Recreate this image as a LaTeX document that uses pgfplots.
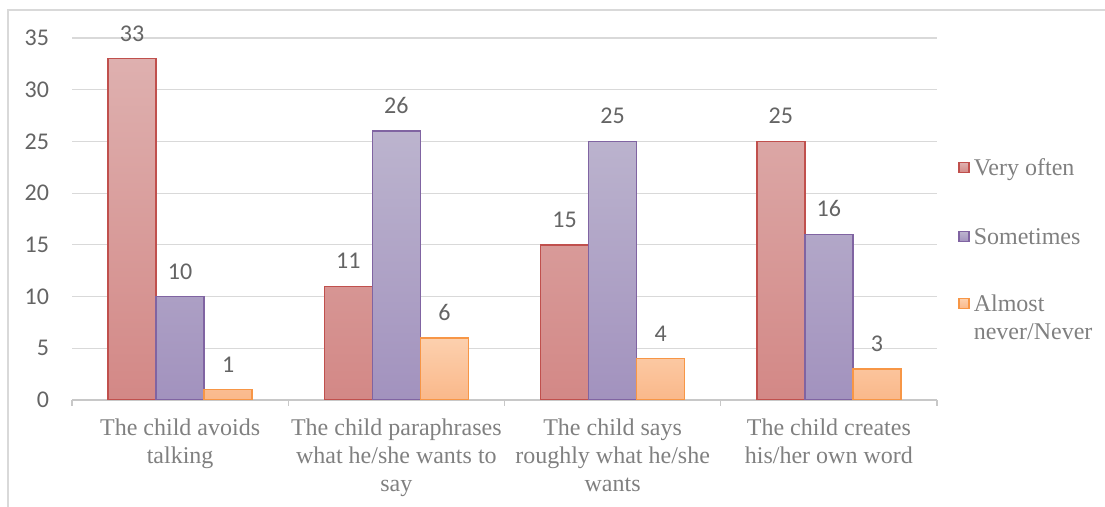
\documentclass[border=0pt]{standalone}
\usepackage{pgfplots}
\pgfplotsset{compat=1.18}
\usepackage{fontspec}
\setmainfont{Liberation Serif}
\newfontfamily\numfont{Carlito}

\definecolor{txtgray}{RGB}{128,128,128}
\definecolor{numgray}{RGB}{100,100,100}
\definecolor{gridgray}{RGB}{217,217,217}
\definecolor{axisgray}{RGB}{200,200,200}
% series colours: outline, top and bottom of the gradient fill
\definecolor{redline}{RGB}{192,80,77}
\definecolor{redtop}{RGB}{222,176,175}
\definecolor{redbot}{RGB}{211,136,134}
\definecolor{purpline}{RGB}{128,100,162}
\definecolor{purptop}{RGB}{188,180,206}
\definecolor{purpbot}{RGB}{162,146,190}
\definecolor{orline}{RGB}{247,150,70}
\definecolor{ortop}{RGB}{252,208,174}
\definecolor{orbot}{RGB}{250,184,138}

\begin{document}
\begin{tikzpicture}
% page frame (1px = 0.5pt; plot area lower-left at the origin)
\useasboundingbox (-36pt,-53.5pt) rectangle (516.5pt,200pt);
\draw[gridgray, line width=0.6pt] (-32pt,-53.5pt) -- (-32pt,195pt) -- (516.5pt,195pt);

\begin{axis}[
  at={(0pt,0pt)}, anchor=south west,
  scale only axis,
  width=432.5pt, height=181pt,
  /pgf/number format/assume math mode=true,
  ybar=0pt, bar width=24pt,
  xmin=-0.5, xmax=3.5,
  ymin=0, ymax=35,
  ytick={0,5,...,35},
  xtick={0,1,2,3},
  xticklabels={%
    {The child avoids\\talking},
    {The child paraphrases\\what he/she wants to\\say},
    {The child says\\roughly what he/she\\wants},
    {The child creates\\his/her own word}},
  minor xtick={-0.5,0.5,1.5,2.5,3.5},
  major tick length=0pt,
  minor tick length=3pt,
  tick align=outside,
  axis x line*=bottom,
  axis y line*=left,
  y axis line style={draw=none},
  x axis line style={axisgray, line width=0.6pt},
  minor x tick style={axisgray, line width=0.6pt},
  ytick style={draw=none},
  ymajorgrids,
  major grid style={gridgray, line width=0.6pt},
  xticklabel style={font=\fontsize{12}{14}\selectfont, text=txtgray, align=center, yshift=-6pt},
  yticklabel style={font=\numfont\fontsize{12}{14}\selectfont, text=numgray, xshift=-8pt},
  nodes near coords,
  nodes near coords style={font=\numfont\fontsize{12}{14}\selectfont, text=numgray, yshift=5pt},
  legend style={draw=none, fill=none, at={(440pt,125pt)}, anchor=north west,
    font=\fontsize{12}{14}\selectfont, text=txtgray,
    row sep=21pt, cells={anchor=base west}, nodes={inner sep=2pt}},
  legend image code/.code={\draw[#1] (0pt,1.3pt) rectangle (5pt,6.3pt);},
]
\addplot[draw=redline, line width=0.7pt, top color=redtop, bottom color=redbot]
  coordinates {(0,33) (1,11) (2,15) (3,25)};
\addplot[draw=purpline, line width=0.7pt, top color=purptop, bottom color=purpbot]
  coordinates {(0,10) (1,26) (2,25) (3,16)};
\addplot[draw=orline, line width=0.7pt, top color=ortop, bottom color=orbot]
  coordinates {(0,1) (1,6) (2,4) (3,3)};
\legend{Very often, Sometimes,
  {\vtop{\hbox{\raisebox{0pt}[7pt]{Almost}}\hbox{never/Never}}}}
\end{axis}
\end{tikzpicture}
\end{document}
